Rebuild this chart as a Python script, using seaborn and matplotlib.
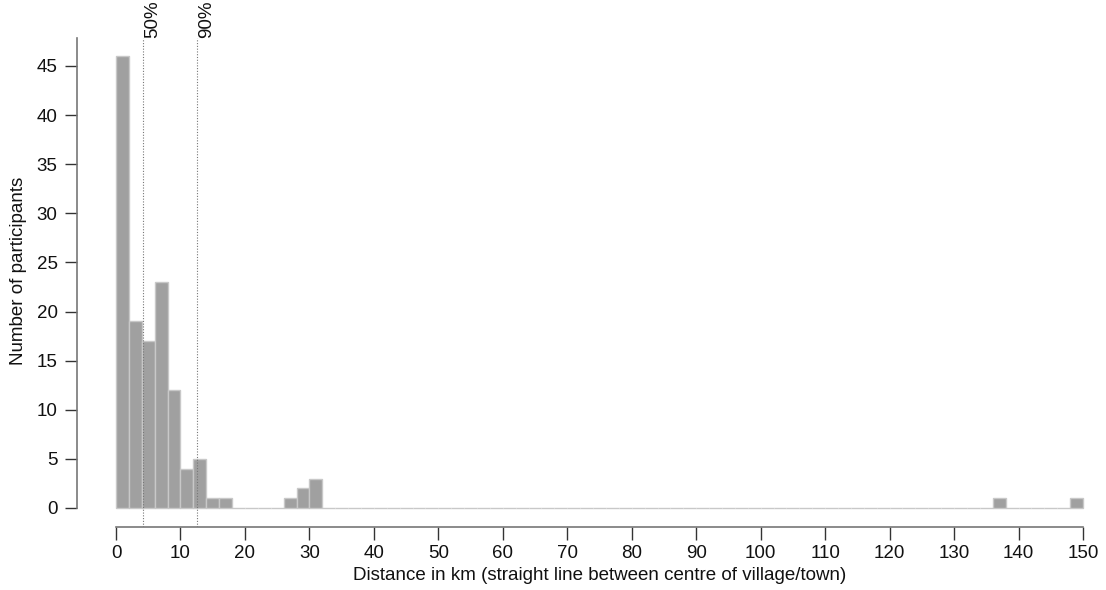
import numpy as np
import pandas as pd
import matplotlib
matplotlib.use("Agg")
import matplotlib.pyplot as plt
import seaborn as sns

# histogram data: left edge of each non-empty 2 km bin and its count
bin_left = [0, 2, 4, 6, 8, 10, 12, 14, 16, 26, 28, 30, 136, 148]
counts = [46, 19, 17, 23, 12, 4, 5, 1, 1, 1, 2, 3, 1, 1]
bin_width = 2
x_max = 150

# percentile markers (km)
pct_labels = ["50%", "90%"]
pct_values = [4.2, 12.55]

x_ticks = list(range(0, 151, 10))
y_ticks = list(range(0, 46, 5))

sns.set_style("white")
plt.rcParams["font.family"] = ["Liberation Sans", "DejaVu Sans"]
fs = 13.5

fig = plt.figure(figsize=(11.06, 5.9), dpi=100)
# axes from px x 77..1100, y 38..527
ax = fig.add_axes([77 / 1106, 1 - 527 / 590, (1100 - 77) / 1106, (527 - 38) / 590])

df = pd.DataFrame({"dist": np.array(bin_left) + bin_width / 2, "n": counts})
sns.histplot(data=df, x="dist", weights="n", binwidth=bin_width, binrange=(0, x_max),
             ax=ax, color="#a0a0a0", edgecolor="#c8c8c8", linewidth=1.0, alpha=1)

px_per_km = (1083 - 116) / 150
px_per_n = (508 - 66) / 45
ax.set_xlim(-(116 - 77) / px_per_km, (1100 - 116) / px_per_km)
ax.set_ylim(-(527 - 508) / px_per_n, (508 - 38) / px_per_n)

for lab, v in zip(pct_labels, pct_values):
    ax.axvline(v, color="#777777", linestyle=(0, (1, 1.5)), linewidth=0.8, zorder=3)
    ax.text(v + 0.2, 1.0, lab, transform=ax.get_xaxis_transform(), rotation=90,
            ha="left", va="bottom", fontsize=fs, color="#111111")

for s in ["top", "right"]:
    ax.spines[s].set_visible(False)
ax.spines["left"].set_bounds(0, ax.get_ylim()[1])
ax.spines["bottom"].set_bounds(0, x_max)
for s in ["left", "bottom"]:
    ax.spines[s].set_color("#777777")
    ax.spines[s].set_linewidth(1.2)

ax.set_xticks(x_ticks)
ax.set_yticks(y_ticks)
ax.tick_params(axis="both", direction="out", length=9, width=1, color="#333333",
               labelsize=fs, labelcolor="#111111", bottom=True, left=True)
ax.tick_params(axis="x", pad=4)
ax.tick_params(axis="y", pad=5)

ax.set_xlabel("Distance in km (straight line between centre of village/town)",
              fontsize=fs, color="#111111")
ax.set_ylabel("Number of participants", fontsize=fs, color="#111111")
ax.xaxis.set_label_coords((600 - 77) / 1023, (527 - 567) / 489)
ax.yaxis.set_label_coords((27 - 77) / 1023, (527 - 271) / 489)

fig.savefig("out.png", dpi=100)
